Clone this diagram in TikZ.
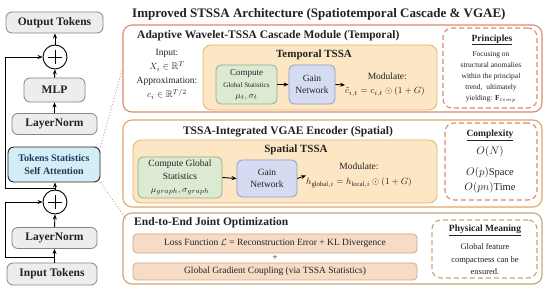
\documentclass[tikz,border=0pt]{standalone}
\usepackage{amsmath,amssymb}
\usepackage{fontspec}
\setmainfont{Liberation Serif}
\usetikzlibrary{arrows.meta,calc}
\definecolor{gfill}{HTML}{EDEDED}
\definecolor{gdraw}{HTML}{858585}
\definecolor{cfill}{HTML}{D3EEF6}
\definecolor{ctext}{HTML}{1E3A56}
\definecolor{pa}{HTML}{DE8A6C}
\definecolor{pb}{HTML}{E2A66E}
\definecolor{pc}{HTML}{C9A47C}
\definecolor{ofill}{HTML}{FCE6C3}
\definecolor{odraw}{HTML}{E8B468}
\definecolor{greenf}{HTML}{DDEAD3}
\definecolor{greend}{HTML}{92AE84}
\definecolor{bluef}{HTML}{D5DCF2}
\definecolor{blued}{HTML}{8E9CCB}
\definecolor{peachf}{HTML}{F6DCC6}
\definecolor{peachd}{HTML}{D9A581}
\definecolor{txt}{HTML}{222222}
\newcommand{\fsz}[2]{\fontsize{#1}{#2}\selectfont}
\begin{document}
\begin{tikzpicture}[x=1pt,y=-1pt,
  every node/.style={text=txt, inner sep=0pt},
  gbox/.style={draw=gdraw, fill=gfill, rounded corners=6pt, line width=0.8pt, font=\bfseries\fsz{11.5}{13}},
  plusnode/.style={circle, draw=black, line width=0.9pt, minimum size=24pt, fill=white,
    path picture={\draw[line width=0.8pt] ([xshift=-7pt]path picture bounding box.center) -- ([xshift=7pt]path picture bounding box.center);
                  \draw[line width=0.8pt] ([yshift=-7pt]path picture bounding box.center) -- ([yshift=7pt]path picture bounding box.center);}},
  arr/.style={-{Stealth[length=5pt,width=4pt]}, line width=0.9pt, black},
  panel/.style={rounded corners=9pt, line width=1.1pt, fill=white},
  dbox/.style={rounded corners=9pt, line width=1.1pt, dashed, dash pattern=on 5pt off 3pt, fill=white},
  obox/.style={rounded corners=8pt, draw=odraw, fill=ofill, line width=0.8pt},
  grbox/.style={rounded corners=5pt, draw=greend, fill=greenf, line width=0.8pt, align=center},
  blbox/.style={rounded corners=5pt, draw=blued, fill=bluef, line width=0.8pt, align=center, font=\fsz{9.5}{12}},
  pbox/.style={rounded corners=4pt, draw=peachd, fill=peachf, line width=0.8pt, font=\fsz{9.5}{11}},
  ptitle/.style={font=\bfseries\fsz{11.5}{13}},
]
\useasboundingbox[fill=white] (0,0) rectangle (550,299);

% ---------- left column ----------
\node[gbox, minimum width=97pt, minimum height=21pt] (out) at (54.5,22.5) {Output Tokens};
\node[plusnode] (plusU) at (55,57) {};
\node[gbox, minimum width=61pt, minimum height=24pt] (mlp) at (54.5,90) {MLP};
\node[gbox, minimum width=85pt, minimum height=21pt] (lnU) at (54.5,124) {LayerNorm};
\node[draw=black!85, fill=cfill, rounded corners=6pt, line width=0.9pt, minimum width=92pt, minimum height=35pt,
      align=center, font=\bfseries\fsz{10}{12.5}, text=ctext] (tssa) at (54,164.5) {Tokens Statistics\\Self Attention};
\node[plusnode] (plusL) at (55,202) {};
\node[gbox, minimum width=85pt, minimum height=21pt] (lnL) at (54.5,238) {LayerNorm};
\node[gbox, minimum width=90pt, minimum height=22pt] (inp) at (52,274) {Input Tokens};

\draw[arr] (inp.north -| lnL.south) -- (lnL.south);
\draw[arr] (lnL.north) -- (plusL.south);
\draw[arr] (plusL.north) -- (plusL.north |- tssa.south);
\draw[arr] (lnU.north) -- (mlp.south);
\draw[arr] (mlp.north) -- (plusU.south);
\draw[arr] (plusU.north) -- (plusU.north |- out.south);
\coordinate (tapU) at (55,188);
\coordinate (tapL) at (55,257);
\draw[arr] (tapU) -- ++(-50,0) |- (plusU.west);
\draw[arr] (tapL) -- ++(-50,0) |- (plusL.west);

% ---------- title ----------
\node[anchor=west, font=\bfseries\fsz{13}{15}] (title) at (132,14) {Improved STSSA Architecture (Spatiotemporal Cascade \& VGAE)};

% ---------- panel 1 ----------
\node[panel, draw=pa, minimum width=419pt, minimum height=87pt] (p1box) at (332.5,68.5) {};
\node[anchor=west, ptitle] (p1t) at (137,36) {Adaptive Wavelet-TSSA Cascade Module (Temporal)};
\node[align=center, font=\fsz{9.5}{14}] (p1in) at (167,74.5) {Input:\\$X_i\in\mathbb{R}^T$\\Approximation:\\$c_i\in\mathbb{R}^{T/2}$};
\node[obox, minimum width=234pt, minimum height=65pt] (tt) at (320,77.5) {};
\node[font=\bfseries\fsz{11}{13}] (ttt) at (314,55) {Temporal TSSA};
\node[grbox, minimum width=61pt, minimum height=39pt] (compT) at (246.5,84.5) {};
\node[font=\fsz{9}{11}] at (246.5,73) {Compute};
\node[font=\fsz{7}{9}] at (246.5,85) {Global Statistics};
\node[font=\fsz{9.5}{11}] at (246.5,97) {$\mu_t,\sigma_t$};
\node[blbox, minimum width=46pt, minimum height=39pt] (gainT) at (312,84.5) {Gain\\Network};
\node[align=center, font=\fsz{9.5}{14}, anchor=west] (modT) at (345,85) {\phantom{x}Modulate:\\$\tilde{c}_{i,t}=c_{i,t}\odot(1+G)$};
\draw[arr] (compT.east) -- (gainT.west);
\draw[arr] (gainT.east) -- (modT.west);

\node[dbox, draw=pa, minimum width=94pt, minimum height=80pt] (princ) at (490,68) {};
\node[font=\bfseries\fsz{9.5}{11}] at (492,40) {\underline{Principles}};
\node[align=center, font=\fsz{7.5}{11.2}] at (491,77) {Focusing on\\structural anomalies\\within the principal\\trend,\enspace ultimately\\yielding: $\mathbf{F}_{temp}$};

% ---------- panel 2 ----------
\node[panel, draw=pb, minimum width=419pt, minimum height=87pt] (p2box) at (332.5,163.5) {};
\node[ptitle] (p2t) at (288,132) {TSSA-Integrated VGAE Encoder (Spatial)};
\node[obox, minimum width=304pt, minimum height=63pt] (st) at (285,171.5) {};
\node[font=\bfseries\fsz{11}{13}] (stt) at (296,150) {Spatial TSSA};
\node[grbox, minimum width=84pt, minimum height=41pt, font=\fsz{9.5}{13}] (compS) at (180,177.5) {Compute Global\\Statistics\\$\mu_{graph},\sigma_{graph}$};
\node[blbox, minimum width=60pt, minimum height=37pt] (gainS) at (267,178.5) {Gain\\Network};
\node[align=center, font=\fsz{9.5}{15}, anchor=west] (modS) at (306,175.5) {Modulate:\\$h_{\mathrm{global},i}=h_{\mathrm{local},i}\odot(1+G)$};
\draw[arr] (compS.east) -- (gainS.west);
\draw[arr] (gainS.east) -- (modS.west);

\node[dbox, draw=pa, minimum width=92pt, minimum height=77pt] (cplx) at (491,161.5) {};
\node[font=\bfseries\fsz{9.5}{11}] at (490,135) {\underline{Complexity}};
\node[font=\fsz{10.5}{12}] at (490,152) {$O(N)$};
\node[align=center, font=\fsz{10.5}{15}] at (490,180.5) {$O(p)$Space\\$O(pn)$Time};

% ---------- panel 3 ----------
\node[panel, draw=pc, minimum width=419pt, minimum height=71pt] (p3box) at (332.5,248.5) {};
\node[anchor=west, ptitle] (p3t) at (134,223) {End-to-End Joint Optimization};
\node[pbox, minimum width=284pt, minimum height=19pt] (loss) at (275,243.5) {Loss Function $\mathcal{L}$ = Reconstruction Error + KL Divergence};
\node[font=\fsz{9.5}{11}] (plus3) at (275,258) {+};
\node[pbox, minimum width=284pt, minimum height=17pt] (grad) at (275,271.5) {Global Gradient Coupling (via TSSA Statistics)};

\node[dbox, draw=pc, minimum width=105pt, minimum height=58pt] (phys) at (484.5,249) {};
\node[font=\bfseries\fsz{9.5}{11}] at (485,230) {\underline{Physical Meaning}};
\node[align=center, font=\fsz{8.5}{12.5}] at (485,259.5) {Global feature\\compactness can be\\ensured.};

% ---------- dotted connectors ----------
\draw[pa, dotted, line width=0.9pt] (tssa.north east) -- (p1box.west);
\draw[pc, dotted, line width=0.9pt] (tssa.south east) -- ($(p3box.north west)+(4,7)$);
\end{tikzpicture}
\end{document}
